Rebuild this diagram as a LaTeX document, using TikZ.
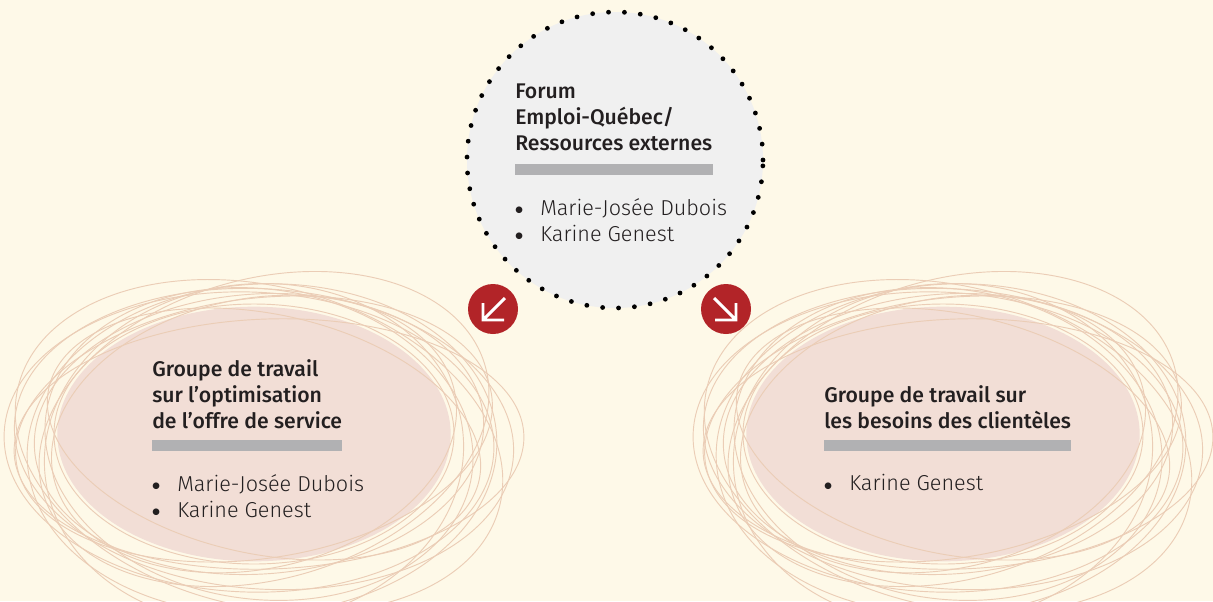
\documentclass[tikz,border=0pt]{standalone}
\usepackage{fontspec}
\setmainfont{Fira Sans}[BoldFont={Fira Sans Medium}]
\newfontfamily\legere{Fira Sans Light}
\newfontfamily\symboles{DejaVu Sans}
\usetikzlibrary{shapes.geometric,positioning}
\definecolor{fond}{HTML}{FEF9E8}
\definecolor{rose}{HTML}{F2DED6}
\definecolor{trait}{HTML}{EBCDB6}
\definecolor{gris}{HTML}{F0F0F0}
\definecolor{barre}{HTML}{B1B1B3}
\definecolor{rouge}{HTML}{B22428}
\definecolor{texte}{HTML}{231F20}
\tikzset{
  titre/.style={anchor=north west,inner sep=0pt,align=left,text=texte,font=\bfseries\fontsize{15.9}{19.5}\selectfont},
  liste/.style={anchor=north west,inner sep=0pt,align=left,text=texte,font=\legere\fontsize{16.2}{19.5}\selectfont},
  bulle/.style={circle,fill=gris,minimum size=222pt,inner sep=0pt,draw=black,line width=3.6pt,line cap=round,dash pattern=on 0pt off 11.95pt},
  groupe/.style={ellipse,fill=rose,minimum width=295pt,minimum height=191pt,inner sep=0pt},
  pastille/.style={circle,fill=rouge,minimum size=37.5pt,inner sep=0pt},
  fleche/.style={white,line width=2.2pt},
  gribouillis/.style={trait,line width=0.7pt},
}
\newcommand{\puce}{\makebox[18.75pt][l]{\raisebox{1.8pt}{\symboles\fontsize{6.5}{0}\selectfont ●}}}

\begin{document}
\begin{tikzpicture}[x=0.75pt,y=-0.75pt]

\fill[fond] (0,0) rectangle (1213,601);
\useasboundingbox (0,0) rectangle (1213,601);

% les deux groupes de travail
\node[groupe] (offre) at (254,434) {};
\node[groupe] (besoins) at (943,434) {};
\foreach \g in {offre,besoins}{
  \foreach \rx/\ry/\a/\dx/\dy in {225/140/4/5/0,250/150/-4/10/5,240/130/8/0/-5,215/155/-8/5/10,255/125/2/15/10,205/135/12/0/0,235/165/3/8/15,200/130/0/0/0,220/120/-12/10/0,245/150/-2/-5/8,230/150/16/10/-5,248/160/-14/5/12,210/170/6/0/20}
    \draw[gribouillis] ([shift={(\dx,\dy)}]\g.center) ellipse [x radius=\rx,y radius=\ry,rotate=\a];
}

% le forum
\node[bulle] (forum) at (615,160) {};

\node[titre] (forumTitre) at (515,84) {Forum\\Emploi-Québec/\\Ressources externes};
\fill[barre] (forumTitre.west |- 0,164) rectangle (forumTitre.east |- 0,175);
\node[liste] (forumListe) at (515,198) {\puce Marie-Josée Dubois\\\puce Karine Genest};

\node[titre] (offreTitre) at (152,359) {Groupe de travail\\sur l’optimisation\\de l’offre de service};
\fill[barre] (offreTitre.west |- 0,440) rectangle (offreTitre.east |- 0,451);
\node[liste] (offreListe) at (152,474) {\puce Marie-Josée Dubois\\\puce Karine Genest};

\node[titre] (besoinsTitre) at (824,385) {Groupe de travail sur\\les besoins des clientèles};
\fill[barre] (besoinsTitre.west |- 0,440) rectangle (besoinsTitre.east |- 0,451);
\node[liste] (besoinsListe) at (824,474) {\puce Karine Genest};

% pastilles
\node[pastille] (flecheG) at (493,309) {};
\node[pastille] (flecheD) at (726,309) {};
\draw[fleche,shift={(flecheG.center)}] (12,-11) -- (-10,11) (-10,-6) -- (-10,11) -- (11,11);
\draw[fleche,shift={(flecheD.center)}] (-12,-11) -- (10,11) (10,-6) -- (10,11) -- (-11,11);

\end{tikzpicture}
\end{document}
